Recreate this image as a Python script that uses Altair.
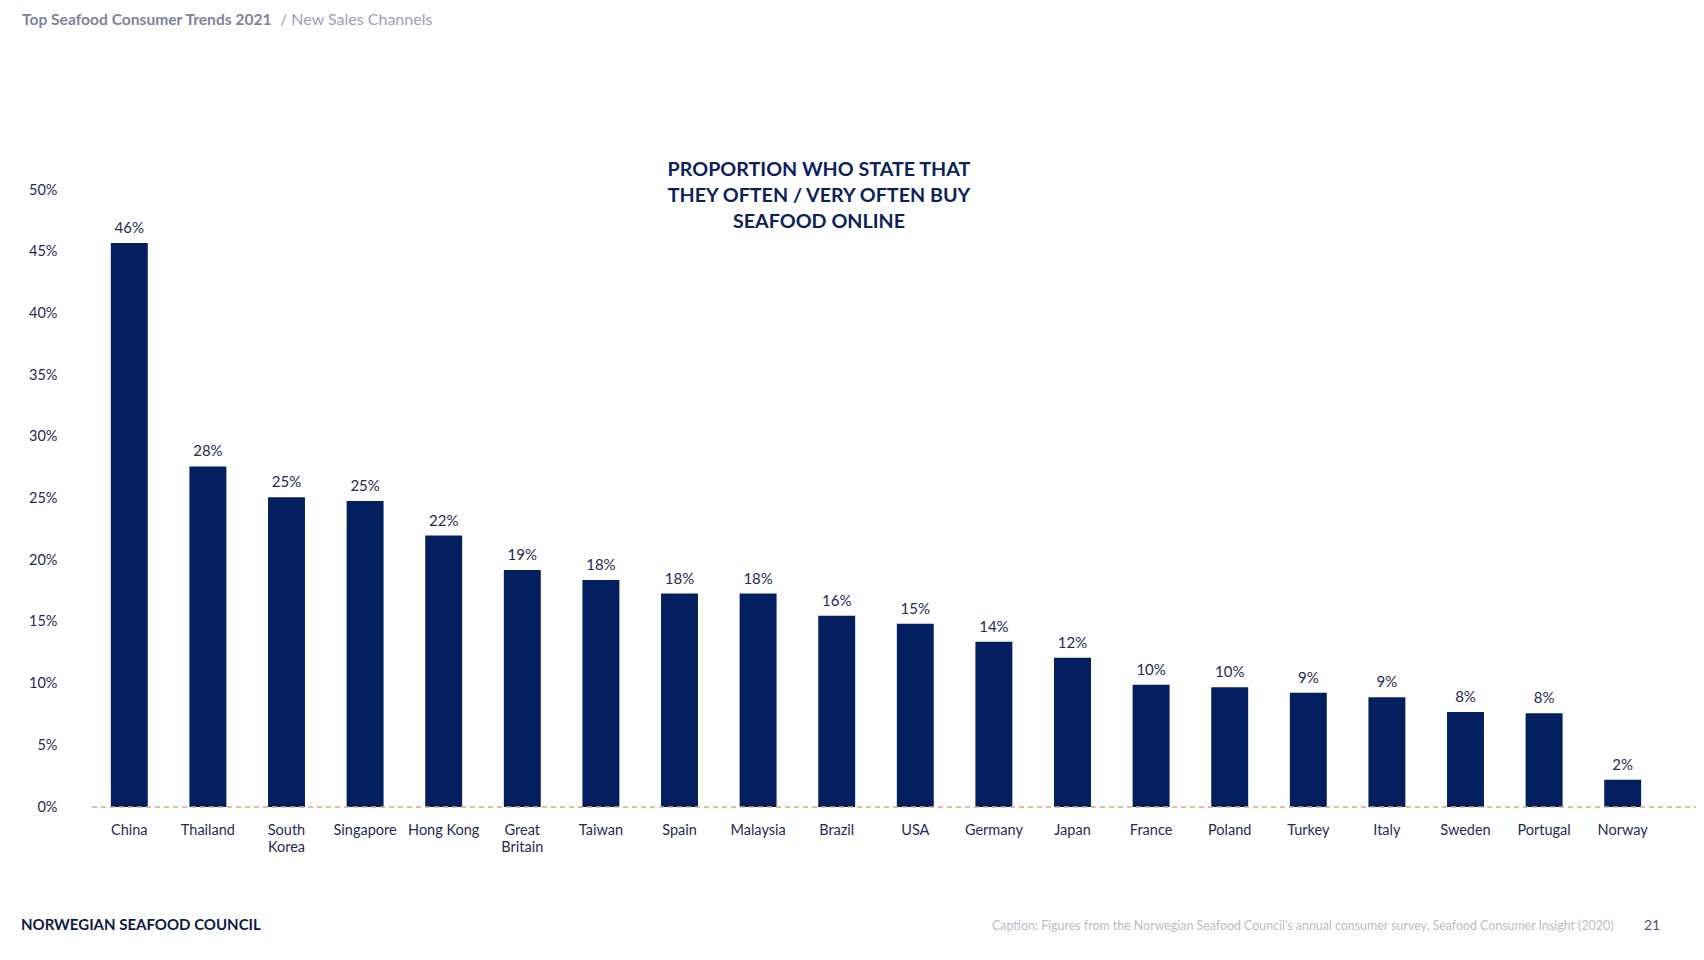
import altair as alt
import pandas as pd

# ---- data ----
countries = ["China", "Thailand", "South Korea", "Singapore", "Hong Kong", "Great Britain",
             "Taiwan", "Spain", "Malaysia", "Brazil", "USA", "Germany", "Japan", "France",
             "Poland", "Turkey", "Italy", "Sweden", "Portugal", "Norway"]
values = [45.7, 27.6, 25.1, 24.8, 22.0, 19.2, 18.4, 17.3, 17.3, 15.5,
          14.85, 13.4, 12.1, 9.9, 9.7, 9.25, 8.9, 7.7, 7.6, 2.2]
value_labels = [46, 28, 25, 25, 22, 19, 18, 18, 18, 16, 15, 14, 12, 10, 10, 9, 9, 8, 8, 2]
y_ticks = [0, 5, 10, 15, 20, 25, 30, 35, 40, 45, 50]

header_main = "Top Seafood Consumer Trends 2021"
header_sub = "/  New Sales Channels"
chart_title = ["PROPORTION WHO STATE THAT", "THEY OFTEN / VERY OFTEN BUY", "SEAFOOD ONLINE"]
footer_brand = "NORWEGIAN SEAFOOD COUNCIL"
footer_caption = ("Caption: Figures from the Norwegian Seafood Council's annual consumer survey, "
                  "Seafood Consumer Insight (2020)")
page_number = "21"

df = pd.DataFrame({
    "country": countries,
    "value": values,
    "label": [f"{v}%" for v in value_labels],
})
one = pd.DataFrame({"zero": [0]})

W, H = 1572, 617
NAVY = "#041f60"
TEXT = "#1f2a57"
FONT = "Lato"

x_enc = alt.X(
    "country:N", sort=countries,
    scale=alt.Scale(paddingInner=0.53, paddingOuter=0.265),
    axis=alt.Axis(
        title=None, labelAngle=0, ticks=False, domain=False, labelPadding=16,
        labelFontSize=14.5, labelColor=TEXT, labelFont=FONT, labelLineHeight=17,
        labelOverlap=False, labelBaseline="top",
        labelExpr="datum.label == 'South Korea' ? ['South', 'Korea'] : "
                  "datum.label == 'Great Britain' ? ['Great', 'Britain'] : datum.label",
    ),
)
y_enc = alt.Y(
    "value:Q",
    scale=alt.Scale(domain=[0, 50], nice=False),
    axis=alt.Axis(
        title=None, values=y_ticks, labelExpr="datum.value + '%'", grid=False,
        domain=False, ticks=False, labelPadding=33, labelFontSize=14.5,
        labelColor=TEXT, labelFont=FONT,
    ),
)

bars = alt.Chart(df).mark_bar(color=NAVY).encode(x=x_enc, y=y_enc)

bar_text = alt.Chart(df).mark_text(
    dy=-15, fontSize=15, color=TEXT, font=FONT, baseline="middle"
).encode(
    x=alt.X("country:N", sort=countries),
    y="value:Q",
    text="label:N",
)

zero_rule = alt.Chart(one).mark_rule(
    color="#dea77c", strokeDash=[5, 4], strokeWidth=1.5
).encode(
    y="zero:Q", x=alt.value(2), x2=alt.value(W + 34)
)

title_txt = alt.Chart(one).mark_text(
    font=FONT, fontSize=19.7, fontWeight="bold", color="#0d1f5e",
    align="center", baseline="middle", lineHeight=26,
).encode(x=alt.value(729), y=alt.value(-20), text=alt.value(chart_title))

head1 = alt.Chart(one).mark_text(
    font=FONT, fontSize=15.6, fontWeight="bold", color="#7d829e",
    align="left", baseline="middle",
).encode(x=alt.value(-68), y=alt.value(-170), text=alt.value(header_main))

head2 = alt.Chart(one).mark_text(
    font=FONT, fontSize=16, color="#9ba0b6", align="left", baseline="middle",
).encode(x=alt.value(190), y=alt.value(-170), text=alt.value(header_sub))

brand = alt.Chart(one).mark_text(
    font=FONT, fontSize=15, fontWeight="bold", color="#0d1a45",
    align="left", baseline="middle",
).encode(x=alt.value(-69), y=alt.value(735), text=alt.value(footer_brand))

caption = alt.Chart(one).mark_text(
    font=FONT, fontSize=12.4, color="#b9bbc6", align="left", baseline="middle",
).encode(x=alt.value(902), y=alt.value(736), text=alt.value(footer_caption))

page = alt.Chart(one).mark_text(
    font=FONT, fontSize=14, color="#4b5479", align="center", baseline="middle",
).encode(x=alt.value(1562), y=alt.value(736), text=alt.value(page_number))

chart = alt.layer(
    bars, zero_rule, bar_text, title_txt, head1, head2, brand, caption, page
).properties(
    width=W, height=H,
    padding={"left": 82, "top": 182, "right": 34, "bottom": 145},
    autosize=alt.AutoSizeParams(type="none"),
    background="white",
).configure_view(stroke=None)

chart.save("out.html", embed_options={"renderer": "svg", "actions": False})
